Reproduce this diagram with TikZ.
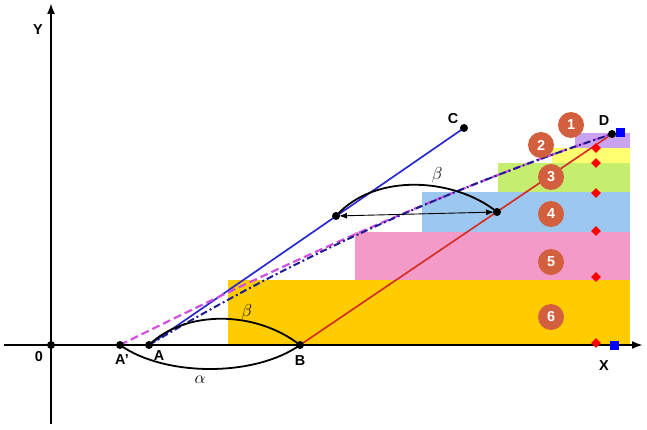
\documentclass[tikz,border=0pt]{standalone}
\usepackage{tikz}
\usepackage{amsmath}
\usepackage{xcolor}
\usepackage{fontspec}
\setsansfont{Liberation Sans}
\usetikzlibrary{shapes.geometric,arrows.meta}

\definecolor{barsix}{HTML}{FFCC00}
\definecolor{barfive}{HTML}{F49AC8}
\definecolor{barfour}{HTML}{9CC8F0}
\definecolor{barthree}{HTML}{C6EE6E}
\definecolor{bartwo}{HTML}{FFFF70}
\definecolor{barone}{HTML}{C9A2F0}
\definecolor{badge}{HTML}{D2603E}
\definecolor{lineblue}{HTML}{2A2ACC}
\definecolor{linered}{HTML}{D4302A}
\definecolor{dashpink}{HTML}{D050E0}

\begin{document}
\begin{tikzpicture}[x=1pt,y=-1pt,
    lbl/.style={font=\sffamily\bfseries\Large},
    badgenode/.style={circle,fill=badge,text=white,inner sep=0pt,minimum size=26pt,font=\sffamily\bfseries\Large},
    reddiamond/.style={diamond,fill=red,inner sep=0pt,minimum size=10pt},
    bluesquare/.style={rectangle,fill=blue,inner sep=0pt,minimum size=9pt},
    axis/.style={line width=2pt,-{Latex[length=11pt,width=8pt]}},
    arc/.style={line width=1.8pt}]
        \useasboundingbox (0,0) rectangle (647,430);

        % stair of bars
        \fill[barsix] (228,280) rectangle (630,345);
        \fill[barfive] (355,232) rectangle (630,280);
        \fill[barfour] (422,192) rectangle (630,232);
        \fill[barthree] (498,163) rectangle (630,192);
        \fill[bartwo] (552,148) rectangle (630,163);
        \fill[barone] (575,133) rectangle (630,148);

        % points
        \coordinate (O) at (51,345);
        \coordinate (Ap) at (120,345);
        \coordinate (A) at (149,345);
        \coordinate (B) at (300,345);
        \coordinate (C) at (464,128);
        \coordinate (D) at (612,134);
        \coordinate (P) at (336,216);
        \coordinate (Q) at (497,212);

        % axes
        \coordinate (xs) at (4,345);
        \coordinate (xe) at (643,345);
        \coordinate (ys) at (51,424);
        \coordinate (ye) at (51,3);
        \draw[axis] (xs) -- (xe);
        \draw[axis] (ys) -- (ye);

        \draw[lineblue, line width=1.7pt] (A) -- (C);
        \draw[linered, line width=1.7pt] (B) -- (D);

        \draw[dashpink, line width=2.2pt, dash pattern=on 8pt off 4pt]
            (Ap) .. controls (311,250) and (475,179) .. (D);
        \draw[lineblue!70!black, line width=2pt, dash pattern=on 7pt off 3pt on 2pt off 3pt]
            (A) .. controls (292,259) and (447,189) .. (D);

        % angles
        \draw[arc] (A) .. controls (185,310) and (255,310) .. (B);
        \draw[arc] (Ap) .. controls (165,377) and (255,377) .. (B);
        \draw[arc] (P) .. controls (375,172) and (455,178) .. (Q);
        \draw[{Latex[length=8pt]}-{Latex[length=8pt]}, line width=0.9pt, shorten <=3pt, shorten >=3pt] (P) -- (Q);

        \node (betaA) at (247,312) {\LARGE $\beta$};
        \node (alphaA) at (200,380) {\LARGE $\alpha$};
        \node (betaB) at (437,175) {\LARGE $\beta$};

        % numbered levels
        \foreach \n/\x/\y in {1/571/125, 2/541/145, 3/551/177, 4/551/214, 5/551/262, 6/551/317} {
            \node[badgenode] (badge\n) at (\x,\y) {\n};
        }
        \foreach \y [count=\i] in {148,163,193,231,277,343} {
            \node[reddiamond] (dm\i) at (596,\y) {};
        }
        \node[bluesquare] (sqD) at (620,133) {};
        \node[bluesquare] (sqX) at (614,345) {};

        \foreach \p in {O,Ap,A,B,C,D,P,Q} {
            \fill (\p) circle (4);
        }

        \node[lbl] (labY) at (38,30) {Y};
        \node[lbl] (labO) at (39,357) {0};
        \node[lbl] (labAp) at (122,360) {A'};
        \node[lbl] (labA) at (159,356) {A};
        \node[lbl] (labB) at (300,361) {B};
        \node[lbl] (labC) at (453,119) {C};
        \node[lbl] (labD) at (604,121) {D};
        \node[lbl] (labX) at (604,366) {X};
\end{tikzpicture}
\end{document}
